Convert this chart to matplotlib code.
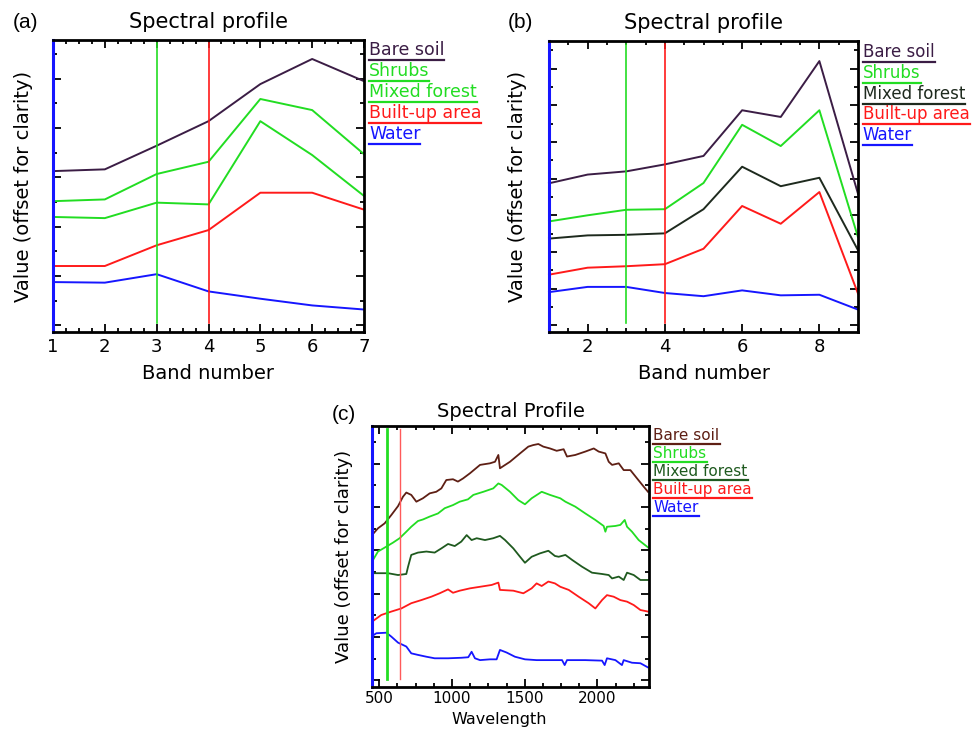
import numpy as np
import matplotlib
matplotlib.use("Agg")
import matplotlib.pyplot as plt
from matplotlib.lines import Line2D
from matplotlib.ticker import MultipleLocator

# ---------------- data (offset units) ----------------
class_names = ["Bare soil", "Shrubs", "Mixed forest", "Built-up area", "Water"]

# (a) 7-band sensor
bands_a = [1, 2, 3, 4, 5, 6, 7]
a_bare = [55.1, 55.7, 63.8, 72.2, 84.9, 93.5, 85.9]
a_shrubs = [44.8, 45.4, 54.1, 58.3, 79.8, 76.0, 60.9]
a_mixed = [39.4, 39.0, 44.3, 43.7, 72.2, 60.6, 46.6]
a_built = [22.6, 22.6, 29.7, 34.9, 47.7, 47.7, 41.9]
a_water = [17.1, 16.9, 19.8, 13.9, 11.4, 9.1, 7.7]
sel_a = [3, 4]

# (b) 9-band sensor
bands_b = [1, 2, 3, 4, 5, 6, 7, 8, 9]
b_bare = [51.1, 54.1, 55.2, 57.6, 60.5, 76.2, 73.9, 93.1, 47.5]
b_shrubs = [38.0, 40.1, 42.0, 42.2, 51.2, 71.2, 63.9, 76.2, 32.6]
b_mixed = [32.1, 33.2, 33.4, 33.9, 42.2, 56.8, 50.1, 53.0, 28.1]
b_built = [19.7, 22.1, 22.6, 23.3, 28.6, 43.3, 37.2, 48.1, 13.2]
b_water = [13.7, 15.5, 15.5, 13.4, 12.3, 14.3, 12.6, 12.8, 7.7]
sel_b = [3, 4]

# (c) hyperspectral, wavelength in nm
wl_bare = [450, 491, 537, 583, 629, 663, 686, 720, 755, 800, 847, 892, 927, 961, 1007,
           1041, 1076, 1124, 1193, 1261, 1296, 1319, 1330, 1399, 1468, 1525, 1559, 1594,
           1628, 1674, 1720, 1768, 1791, 1848, 1917, 1975, 2009, 2055, 2078, 2101, 2147,
           2181, 2227, 2273, 2318, 2348]
c_bare = [58.2, 60.8, 62.7, 65.9, 69.3, 72.9, 74.5, 73.6, 71.0, 72.3, 74.2, 74.8, 76.1,
          79.3, 79.6, 78.7, 79.9, 81.9, 85.1, 85.7, 86.3, 88.9, 83.8, 86.3, 89.5, 92.1,
          92.7, 93.1, 92.1, 91.4, 90.5, 91.1, 88.3, 88.9, 90.2, 91.4, 90.2, 89.5, 86.3,
          85.1, 85.7, 83.1, 83.1, 79.9, 76.8, 74.8]

wl_shrubs = [450, 491, 537, 594, 640, 686, 720, 766, 801, 847, 904, 950, 1007, 1053, 1110,
             1147, 1216, 1284, 1319, 1342, 1399, 1456, 1502, 1548, 1617, 1674, 1745, 1780,
             1848, 1917, 1986, 2043, 2055, 2066, 2124, 2158, 2188, 2204, 2238, 2284, 2348]
c_shrubs = [48.0, 51.9, 53.4, 55.3, 57.0, 59.5, 61.4, 63.6, 64.2, 65.3, 66.5, 68.5, 69.7,
            71.0, 71.9, 73.6, 74.8, 76.1, 78.0, 77.4, 74.8, 71.6, 70.0, 72.3, 74.8, 73.6,
            72.3, 71.0, 69.1, 66.5, 64.0, 61.7, 59.5, 61.4, 61.7, 62.1, 64.0, 61.4, 59.5,
            56.3, 53.5]

wl_mixed = [450, 491, 560, 629, 686, 698, 720, 766, 824, 881, 927, 973, 1019, 1064, 1101,
            1135, 1170, 1227, 1284, 1330, 1365, 1422, 1468, 1502, 1548, 1605, 1663, 1708,
            1734, 1780, 1826, 1894, 1963, 2032, 2078, 2101, 2147, 2181, 2204, 2250, 2296,
            2348]
c_mixed = [43.6, 43.6, 43.6, 42.9, 43.3, 46.1, 50.6, 51.5, 51.9, 51.5, 53.1, 54.8, 54.0,
           55.7, 58.2, 56.3, 57.0, 56.3, 57.0, 57.9, 56.3, 53.1, 49.9, 47.6, 49.9, 51.2,
           52.2, 50.2, 49.9, 50.6, 48.7, 46.1, 43.8, 43.3, 42.9, 41.6, 42.3, 41.0, 43.8,
           42.9, 41.0, 41.0]

wl_built = [450, 514, 583, 652, 720, 789, 858, 915, 973, 1007, 1053, 1124, 1193, 1273,
            1319, 1330, 1422, 1491, 1548, 1582, 1617, 1663, 1708, 1745, 1803, 1871, 1940,
            1986, 2032, 2066, 2112, 2158, 2204, 2250, 2296, 2348]
c_built = [25.0, 27.6, 28.9, 30.1, 32.1, 33.3, 34.6, 35.9, 37.4, 36.1, 36.9, 37.8, 38.4,
           39.1, 40.0, 37.2, 36.9, 35.9, 37.8, 39.7, 38.7, 40.4, 39.7, 38.4, 37.2, 34.6,
           32.1, 30.1, 33.3, 35.2, 34.6, 33.3, 32.7, 31.4, 29.5, 28.9]

wl_water = [450, 480, 549, 583, 629, 686, 720, 766, 824, 881, 973, 1064, 1112, 1135, 1158,
            1193, 1261, 1307, 1330, 1376, 1433, 1502, 1582, 1663, 1757, 1775, 1791, 1917,
            2032, 2050, 2066, 2124, 2169, 2181, 2238, 2296, 2348]
c_water = [19.5, 20.6, 20.8, 19.3, 17.0, 15.5, 12.9, 12.3, 11.6, 11.0, 11.0, 11.2, 11.4,
           13.5, 11.0, 10.3, 10.6, 10.6, 14.2, 13.2, 11.6, 10.6, 10.3, 10.3, 10.3, 8.4,
           10.3, 10.3, 10.1, 8.4, 11.0, 10.3, 8.4, 10.3, 9.3, 9.1, 7.5]
sel_c = [550, 640]

# ---------------- colours ----------------
GREEN = "#22dd22"
RED = "#ff1a1a"
BLUE = "#1616ff"
PURPLE = "#3b1d45"
DARK = "#1e2a1e"
BROWN = "#5e1f14"
DKGREEN = "#1f5a1f"


def style_axes(ax, xlim, xmajor, xminor, ytick0, ystep, tick_fs, pad):
    ax.set_xlim(*xlim)
    ax.set_ylim(0, 100)
    ax.xaxis.set_major_locator(MultipleLocator(xmajor))
    ax.xaxis.set_minor_locator(MultipleLocator(xminor))
    ax.set_yticks(np.arange(ytick0, 100, 2 * ystep))
    ax.set_yticks(np.arange(ytick0 + ystep, 100, 2 * ystep), minor=True)
    ax.tick_params(which="both", direction="in", top=True, right=True,
                   color="k", width=1.3, labelleft=False)
    ax.tick_params(which="major", length=6, labelsize=tick_fs, pad=pad)
    ax.tick_params(which="minor", length=3)
    for s in ax.spines.values():
        s.set_linewidth(2.0)
        s.set_color("k")
    ax.spines["left"].set_color(BLUE)
    ax.spines["left"].set_linewidth(2.2)


def side_legend(ax, colors, y0, dy, fs):
    out = []
    for i, (name, col) in enumerate(zip(class_names, colors)):
        t = ax.text(1.016, y0 - i * dy, name, transform=ax.transAxes, color=col,
                    fontsize=fs, ha="left", va="center", clip_on=False)
        out.append((t, col))
    return out


fig = plt.figure(figsize=(9.77, 7.31), dpi=100)
ax_a = fig.add_axes([53 / 977, 1 - 332 / 731, 311 / 977, 292 / 731])
ax_b = fig.add_axes([549 / 977, 1 - 332 / 731, 309 / 977, 291 / 731])
ax_c = fig.add_axes([372 / 977, 1 - 687 / 731, 277 / 977, 261 / 731])

legend_items = []

# ---- (a)
cols_a = [PURPLE, GREEN, GREEN, RED, BLUE]
for ys, c in zip([a_bare, a_shrubs, a_mixed, a_built, a_water], cols_a):
    ax_a.plot(bands_a, ys, color=c, lw=1.4, clip_on=False)
ax_a.axvline(sel_a[0], ymin=0.03, ymax=0.99, color=GREEN, lw=1.2)
ax_a.axvline(sel_a[1], ymin=0.03, ymax=0.99, color=RED, lw=1.2)
style_axes(ax_a, (1, 7), 1, 0.25, 2.3, 8.45, 13, 4)
ax_a.text(0.5, 1.062, "Spectral profile", transform=ax_a.transAxes,
          ha="center", va="center", fontsize=15)
ax_a.set_xlabel("Band number", fontsize=14, va="top")
ax_a.xaxis.set_label_coords(0.5, -0.11)
ax_a.set_ylabel("Value (offset for clarity)", fontsize=14)
ax_a.yaxis.set_label_coords(-0.064, 0.5)
legend_items += side_legend(ax_a, cols_a, 0.965, 0.0715, 12.5)
fig.text(13 / 977, 1 - 22 / 731, "(a)", fontsize=15, family="Liberation Sans",
         ha="left", va="center")

# ---- (b)
cols_b = [PURPLE, GREEN, DARK, RED, BLUE]
for ys, c in zip([b_bare, b_shrubs, b_mixed, b_built, b_water], cols_b):
    ax_b.plot(bands_b, ys, color=c, lw=1.4, clip_on=False)
ax_b.axvline(sel_b[0], ymin=0.03, ymax=0.99, color=GREEN, lw=1.2)
ax_b.axvline(sel_b[1], ymin=0.03, ymax=0.99, color=RED, lw=1.2)
style_axes(ax_b, (1, 9), 2, 0.5, 2.3, 6.3, 13, 4)
ax_b.text(0.5, 1.062, "Spectral profile", transform=ax_b.transAxes,
          ha="center", va="center", fontsize=15)
ax_b.set_xlabel("Band number", fontsize=14, va="top")
ax_b.xaxis.set_label_coords(0.5, -0.11)
ax_b.set_ylabel("Value (offset for clarity)", fontsize=14)
ax_b.yaxis.set_label_coords(-0.071, 0.5)
legend_items += side_legend(ax_b, cols_b, 0.962, 0.0715, 12)
fig.text(508 / 977, 1 - 22 / 731, "(b)", fontsize=15, family="Liberation Sans",
         ha="left", va="center")

# ---- (c)
cols_c = [BROWN, GREEN, DKGREEN, RED, BLUE]
for xs, ys, c in zip([wl_bare, wl_shrubs, wl_mixed, wl_built, wl_water],
                     [c_bare, c_shrubs, c_mixed, c_built, c_water], cols_c):
    ax_c.plot(xs, ys, color=c, lw=1.3)
ax_c.axvline(sel_c[0], ymin=0.03, ymax=0.99, color=GREEN, lw=2.0)
ax_c.axvline(sel_c[1], ymin=0.03, ymax=0.99, color="#ff5a5a", lw=1.0)
style_axes(ax_c, (450, 2355), 500, 125, 2.6, 8.3, 11, 3)
ax_c.text(0.5, 1.054, "Spectral Profile", transform=ax_c.transAxes,
          ha="center", va="center", fontsize=14)
ax_c.set_xlabel("Wavelength", fontsize=11.5, va="top")
ax_c.xaxis.set_label_coords(0.46, -0.095)
ax_c.set_ylabel("Value (offset for clarity)", fontsize=13)
ax_c.yaxis.set_label_coords(-0.069, 0.5)
legend_items += side_legend(ax_c, cols_c, 0.965, 0.0695, 11)
fig.text(332 / 977, 1 - 414 / 731, "(c)", fontsize=15, family="Liberation Sans",
         ha="left", va="center")

# underline the class names in their own colour
fig.canvas.draw()
renderer = fig.canvas.get_renderer()
inv = fig.transFigure.inverted()
for t, col in legend_items:
    bb = t.get_window_extent(renderer)
    (x0, y0), (x1, _) = inv.transform([(bb.x0, bb.y0 - 1), (bb.x1, bb.y0 - 1)])
    fig.add_artist(Line2D([x0, x1], [y0, y0], transform=fig.transFigure,
                          color=col, lw=1.6))

fig.savefig("out.png", dpi=100, facecolor="white")
